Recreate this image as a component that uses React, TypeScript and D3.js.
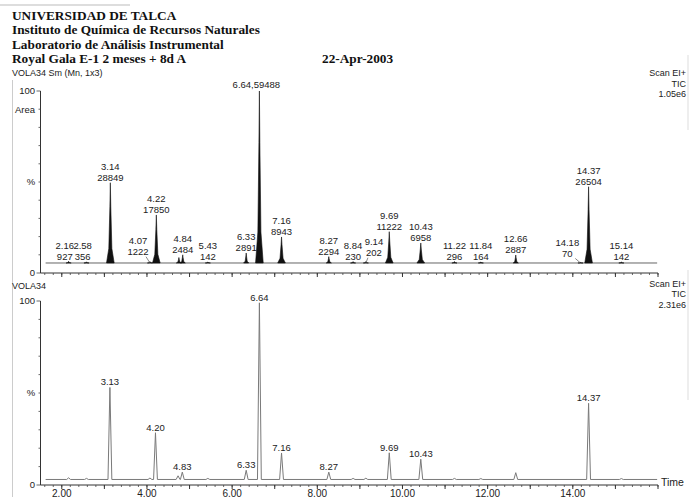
import React from "react";
import * as d3 from "d3";

// ---- data ----
const headerLines = [
  "UNIVERSIDAD DE TALCA",
  "Instituto de Química de Recursos Naturales",
  "Laboratorio de Análisis Instrumental",
  "Royal Gala E-1 2 meses + 8d A",
];
const dateText = "22-Apr-2003";

// top panel (Sm, integrated areas)
const topTimes = [2.16, 2.58, 3.14, 4.07, 4.22, 4.75, 4.84, 5.43, 6.33, 6.64, 7.16, 8.27, 8.84, 9.14, 9.69, 10.43, 11.22, 11.84, 12.66, 14.18, 14.37, 15.14];
const topHeights = [6.4, 6.1, 49.6, 6.2, 31.9, 8.5, 10.0, 6.0, 11.0, 100, 19.8, 9.0, 6.2, 6.2, 22.7, 16.5, 6.3, 6.0, 9.9, 5.8, 47.4, 6.0];
const topAreas = ["927", "356", "28849", "1222", "17850", null, "2484", "142", "2891", "59488", "8943", "2294", "230", "202", "11222", "6958", "296", "164", "2887", "70", "26504", "142"];
const topBaseline = 5.5;

// bottom panel (raw TIC)
const botTimes = [2.16, 2.58, 3.13, 4.07, 4.20, 4.73, 4.83, 5.43, 6.33, 6.64, 7.16, 8.27, 8.84, 9.14, 9.69, 10.43, 11.22, 11.84, 12.66, 14.37, 15.14];
const botHeights = [3.9, 3.6, 53, 3.8, 28.4, 5.0, 7.0, 3.6, 8.0, 99, 17.4, 7.0, 3.6, 3.7, 17.5, 14.0, 3.6, 3.5, 6.7, 44.4, 3.5];
const botLabels = [null, null, "3.13", null, "4.20", null, "4.83", null, "6.33", "6.64", "7.16", "8.27", null, null, "9.69", "10.43", null, null, null, "14.37", null];
const botBaseline = 3.0;

const xTickLabels = ["2.00", "4.00", "6.00", "8.00", "10.00", "12.00", "14.00"];
const xTickValues = [2, 4, 6, 8, 10, 12, 14];

// label layout nudges (minutes / px) for leader-line labels
const topLabelShift: Record<string, number> = { "2.16": -0.09, "2.58": -0.09, "4.07": -0.28, "9.14": 0.19, "14.18": -0.31 };
const topLabelLift: Record<string, number> = { "4.07": 5, "9.14": 4, "14.18": 4 };

const W = 698, H = 497;
const FONT = "'Liberation Sans', Arial, sans-serif";
const SERIF = "'Liberation Serif', 'Times New Roman', serif";

export default function App() {
  const x = d3.scaleLinear().domain([1.5, 16.0]).range([40.5, 658]);
  const yTop = d3.scaleLinear().domain([0, 100]).range([273, 91]);
  const yBot = d3.scaleLinear().domain([0, 100]).range([485, 301]);

  const line = (ys: d3.ScaleLinear<number, number>) =>
    d3.line<[number, number]>().x((d) => x(d[0])).y((d) => ys(d[1]));

  // top filled peaks
  const topPeakPaths = topTimes.map((t, i) => {
    const h = topHeights[i];
    const w = h > 15 ? 0.09 : 0.06;
    const b = topBaseline;
    const pts: [number, number][] = [
      [t - w, b],
      [t - w * 0.4, b + (h - b) * 0.18],
      [t - w * 0.12, b + (h - b) * 0.7],
      [t, h],
      [t + w * 0.12, b + (h - b) * 0.7],
      [t + w * 0.4, b + (h - b) * 0.18],
      [t + w, b],
    ];
    return line(yTop)(pts) + "Z";
  });

  // bottom trace
  const botPts: [number, number][] = [[1.62, botBaseline]];
  botTimes.forEach((t, i) => {
    const w = 0.045;
    botPts.push([t - w, botBaseline]);
    botPts.push([t, botHeights[i]]);
    botPts.push([t + w, botBaseline]);
  });
  botPts.push([15.98, botBaseline]);
  const botPath = line(yBot)(botPts);

  const minorTicks = d3.range(1.6, 16.0001, 0.2).map((v) => +v.toFixed(2));
  const majorTicks = d3.range(2, 16.0001, 1);
  const yTicks = d3.range(0, 100.001, 10);

  const xAxis = (y0: number, key: string) => (
    <g key={key}>
      <line x1={40.5} x2={658} y1={y0} y2={y0} stroke="#333" strokeWidth={1} />
      {minorTicks.map((t) => (
        <line key={"m" + t} x1={x(t)} x2={x(t)} y1={y0} y2={y0 + 2} stroke="#444" strokeWidth={0.8} />
      ))}
      {majorTicks.map((t) => (
        <line key={"M" + t} x1={x(t)} x2={x(t)} y1={y0} y2={y0 + 4} stroke="#333" strokeWidth={1} />
      ))}
    </g>
  );

  const yAxis = (ys: d3.ScaleLinear<number, number>, key: string) => (
    <g key={key}>
      <line x1={40.5} x2={40.5} y1={ys(100)} y2={ys(0)} stroke="#333" strokeWidth={1} />
      {yTicks.map((v) => (
        <line key={v} x1={v === 0 || v === 100 ? 36.5 : 38.5} x2={40.5} y1={ys(v)} y2={ys(v)} stroke="#444" strokeWidth={0.8} />
      ))}
      <text x={35} y={ys(100)} dy="0.35em" textAnchor="end" fontSize={9.5} fontFamily={FONT} fill="#222">100</text>
      <text x={35} y={ys(0)} dy="0.35em" textAnchor="end" fontSize={9.5} fontFamily={FONT} fill="#222">0</text>
      <text x={31} y={ys(50)} dy="0.35em" textAnchor="middle" fontSize={9.5} fontFamily={FONT} fill="#222">%</text>
    </g>
  );

  return (
    <svg width={W} height={H} style={{ position: "absolute", left: 0, top: 0, background: "#fff" }}>
      {/* scan edges */}
      <line x1={0} x2={130} y1={5} y2={5} stroke="#bbb" strokeWidth={1} />
      <line x1={12.5} x2={12.5} y1={80} y2={497} stroke="#ccc" strokeWidth={1} />
      <line x1={688} x2={688} y1={55} y2={130} stroke="#ddd" strokeWidth={1} />
      <line x1={688} x2={688} y1={270} y2={400} stroke="#ddd" strokeWidth={1} />

      {/* header */}
      {headerLines.map((s, i) => (
        <text key={s} x={12} y={19.5 + i * 14.6} fontSize={13.3} fontWeight="bold" fontFamily={SERIF} fill="#111">{s}</text>
      ))}
      <text x={322} y={19.5 + 3 * 14.6} fontSize={13.3} fontWeight="bold" fontFamily={SERIF} fill="#111">{dateText}</text>

      {/* top panel */}
      <text x={12} y={73} dy="0.35em" fontSize={9} fontFamily={FONT} fill="#222">VOLA34 Sm (Mn, 1x3)</text>
      <text x={686} y={73} dy="0.35em" textAnchor="end" fontSize={9} fontFamily={FONT} fill="#222">Scan EI+</text>
      <text x={686} y={83.5} dy="0.35em" textAnchor="end" fontSize={9} fontFamily={FONT} fill="#222">TIC</text>
      <text x={686} y={94} dy="0.35em" textAnchor="end" fontSize={9} fontFamily={FONT} fill="#222">1.05e6</text>
      <text x={25} y={110} dy="0.35em" textAnchor="middle" fontSize={9.5} fontFamily={FONT} fill="#222">Area</text>
      {yAxis(yTop, "yt")}
      {xAxis(273, "xt")}
      <line x1={x(1.62)} x2={x(15.98)} y1={yTop(topBaseline)} y2={yTop(topBaseline)} stroke="#666" strokeWidth={1} />
      {topPeakPaths.map((p, i) => (
        <path key={i} d={p} fill="#111" stroke="#111" strokeWidth={0.6} />
      ))}
      {topTimes.map((t, i) => {
        const area = topAreas[i];
        if (area === null) return null;
        const rt = t.toFixed(2);
        const lx = x(t + (topLabelShift[rt] || 0));
        const top = yTop(topHeights[i]);
        const lift = topLabelLift[rt] || 0;
        if (rt === "6.64") {
          return (
            <text key={i} x={lx - 3} y={top - 6} dy="0.35em" textAnchor="middle" fontSize={9.5} fontFamily={FONT} fill="#222">{rt + "," + area}</text>
          );
        }
        const l2 = Math.min(top - 5, 258) - lift;
        const leader = topLabelShift[rt] !== undefined && Math.abs(topLabelShift[rt]) > 0.15;
        return (
          <g key={i}>
            <text x={lx} y={l2 - 11} dy="0.35em" textAnchor="middle" fontSize={9.5} fontFamily={FONT} fill="#222">{rt}</text>
            <text x={lx} y={l2} dy="0.35em" textAnchor="middle" fontSize={9.5} fontFamily={FONT} fill="#222">{area}</text>
            {leader && (
              <line x1={lx + (topLabelShift[rt] > 0 ? -6 : 8)} y1={l2 + 5} x2={x(t)} y2={yTop(topBaseline)} stroke="#555" strokeWidth={0.7} />
            )}
          </g>
        );
      })}

      {/* bottom panel */}
      <text x={12} y={286} dy="0.35em" fontSize={9} fontFamily={FONT} fill="#222">VOLA34</text>
      <text x={686} y={283.5} dy="0.35em" textAnchor="end" fontSize={9} fontFamily={FONT} fill="#222">Scan EI+</text>
      <text x={686} y={294} dy="0.35em" textAnchor="end" fontSize={9} fontFamily={FONT} fill="#222">TIC</text>
      <text x={686} y={304.5} dy="0.35em" textAnchor="end" fontSize={9} fontFamily={FONT} fill="#222">2.31e6</text>
      {yAxis(yBot, "yb")}
      {xAxis(485, "xb")}
      <path d={botPath || ""} fill="none" stroke="#7a7a7a" strokeWidth={1} />
      {botTimes.map((t, i) =>
        botLabels[i] ? (
          <text key={i} x={x(t)} y={yBot(botHeights[i]) - 5.5} dy="0.35em" textAnchor="middle" fontSize={9.5} fontFamily={FONT} fill="#222">{botLabels[i]}</text>
        ) : null
      )}
      {xTickValues.map((v, i) => (
        <text key={v} x={x(v)} y={493} dy="0.35em" textAnchor="middle" fontSize={10} fontFamily={FONT} fill="#222">{xTickLabels[i]}</text>
      ))}
      <text x={661} y={482} dy="0.35em" fontSize={10.5} fontFamily={FONT} fill="#222">Time</text>
    </svg>
  );
}
